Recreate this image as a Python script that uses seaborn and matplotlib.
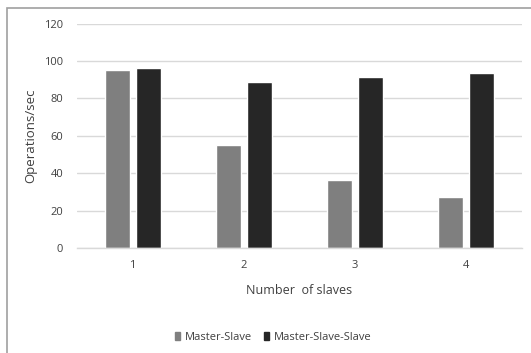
import matplotlib
matplotlib.use("Agg")
import matplotlib.pyplot as plt
import seaborn as sns
import pandas as pd
from matplotlib.patches import Rectangle

categories = ["1", "2", "3", "4"]
master_slave = [95.3, 54.9, 36.2, 27.4]
master_slave_slave = [96.1, 88.8, 91.4, 93.6]
series_names = ["Master-Slave", "Master-Slave-Slave"]
y_ticks = [0, 20, 40, 60, 80, 100, 120]

df = pd.DataFrame({
    "slaves": categories * 2,
    "ops": master_slave + master_slave_slave,
    "series": [series_names[0]] * 4 + [series_names[1]] * 4,
})

sns.set_theme(style="white")
plt.rcParams["font.family"] = ["Open Sans", "DejaVu Sans"]
text_color = "#404040"

fig = plt.figure(figsize=(5.31, 3.53), dpi=100)
fig.patch.set_facecolor("white")
ax = fig.add_axes([77 / 531, 1 - 248 / 353, (522 - 77) / 531, (248 - 23.5) / 353])

palette = {series_names[0]: "#7f7f7f", series_names[1]: "#262626"}
sns.barplot(data=df, x="slaves", y="ops", hue="series", palette=palette,
            order=categories, hue_order=series_names, ax=ax,
            width=0.56, gap=0.2, saturation=1, legend=False)

ax.set_xlim(-0.5, 3.5)
ax.set_ylim(0, 120)
ax.set_yticks(y_ticks)
ax.yaxis.grid(True, color="#d9d9d9", linewidth=1)
ax.set_axisbelow(True)
for s in ["left", "right", "top"]:
    ax.spines[s].set_visible(False)
ax.spines["bottom"].set_color("#d9d9d9")
ax.spines["bottom"].set_linewidth(1)
ax.tick_params(axis="both", length=0, labelsize=8, colors=text_color)
ax.tick_params(axis="y", pad=10)
ax.tick_params(axis="x", pad=9)
ax.set_xlabel("Number  of slaves", fontsize=9, color=text_color, labelpad=9)
ax.set_ylabel("Operations/sec", fontsize=9.5, color=text_color, labelpad=5)

handles = [Rectangle((0, 0), 1, 1, color=palette[n]) for n in series_names]
fig.legend(handles, series_names, loc="center", bbox_to_anchor=(273 / 531, 1 - 337 / 353),
           ncol=2, frameon=False, fontsize=8, labelcolor=text_color,
           handlelength=0.5, handleheight=0.7, handletextpad=0.4, columnspacing=1.1)

fig.patches.append(Rectangle((6.5 / 531, -0.05), 1.0, 1 - 8 / 353 + 0.05,
                             transform=fig.transFigure, fill=False,
                             edgecolor="#a0a0a0", linewidth=1.2))

fig.savefig("out.png", dpi=100, facecolor="white")
